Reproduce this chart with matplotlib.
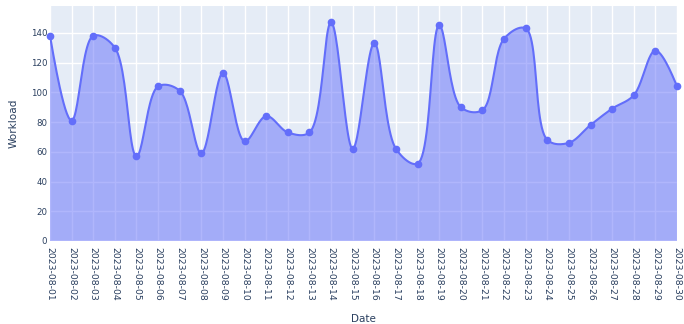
import numpy as np
import pandas as pd
import matplotlib
matplotlib.use("Agg")
import matplotlib.pyplot as plt

# Dane
dates = pd.date_range("2023-08-01", "2023-08-30").strftime("%Y-%m-%d").tolist()
workload = [138, 81, 138, 130, 57, 104, 101, 59, 113, 67,
            84, 73, 73, 147, 62, 133, 62, 52, 145, 90,
            88, 136, 143, 68, 66, 78, 89, 98, 128, 104]
y_ticks = [0, 20, 40, 60, 80, 100, 120, 140]


# Punkty kontrolne jak w plotly (spline, smoothing=1, centripetal Catmull-Rom)
def tangent(prev, this, nxt, smooth=1.0):
    d1 = prev - this
    d2 = nxt - this
    d1a = np.hypot(*d1) ** 0.5
    d2a = np.hypot(*d2) ** 0.5
    num = (d2a * d2a * d1 - d1a * d1a * d2) * smooth
    den1 = 3 * d2a * (d1a + d2a)
    den2 = 3 * d1a * (d1a + d2a)
    return this + num / den1, this - num / den2


def bezier(pts, steps=25):
    t = np.linspace(0, 1, steps)[:, None]
    if len(pts) == 3:
        a, b, c = pts
        return (1 - t) ** 2 * a + 2 * (1 - t) * t * b + t ** 2 * c
    a, b, c, d = pts
    return ((1 - t) ** 3 * a + 3 * (1 - t) ** 2 * t * b
            + 3 * (1 - t) * t ** 2 * c + t ** 3 * d)


def plotly_spline(ax, x, y):
    pts = ax.transData.transform(np.column_stack([x, y]))
    n = len(pts)
    tg = [tangent(pts[i - 1], pts[i], pts[i + 1]) for i in range(1, n - 1)]
    segs = [bezier([pts[0], tg[0][0], pts[1]])]
    for i in range(2, n - 1):
        segs.append(bezier([pts[i - 1], tg[i - 2][1], tg[i - 1][0], pts[i]]))
    segs.append(bezier([pts[n - 2], tg[n - 3][1], pts[n - 1]]))
    curve = np.vstack(segs)
    return ax.transData.inverted().transform(curve)


text_color = "#2a3f5f"
line_color = "#636EFA"

fig = plt.figure(figsize=(6.84, 3.24), dpi=100)
ax = fig.add_axes([50 / 684, 83 / 324, 627 / 684, 235 / 324])
ax.set_facecolor("#E5ECF6")

x = np.arange(len(dates))
ax.set_xlim(0, len(dates) - 1)
ax.set_ylim(0, 158)

curve = plotly_spline(ax, x, workload)
poly = np.vstack([curve, [[curve[-1, 0], 0], [curve[0, 0], 0]]])
ax.fill(poly[:, 0], poly[:, 1], color=line_color, alpha=0.5, lw=0, zorder=2)
ax.plot(curve[:, 0], curve[:, 1], color=line_color, lw=1.5, zorder=3)
ax.plot(x, workload, "o", color=line_color, ms=4.5, clip_on=False, zorder=5)

ax.set_xticks(x)
ax.set_xticklabels(dates, rotation=-90, fontsize=6.7, color=text_color)
ax.set_yticks(y_ticks)
ax.set_yticklabels(y_ticks, fontsize=6.2, color=text_color)
ax.tick_params(axis="x", length=0, pad=4)
ax.tick_params(axis="y", length=0, pad=2)
ax.grid(True, color="white", lw=1)
ax.set_axisbelow(True)
ax.axhline(0, color="white", lw=2, zorder=1)
for s in ax.spines.values():
    s.set_visible(False)

ax.set_xlabel("Date", fontsize=7.5, color=text_color, labelpad=10)
ax.set_ylabel("Workload", fontsize=7.6, color=text_color, labelpad=9)

fig.savefig("out.png", dpi=100)
